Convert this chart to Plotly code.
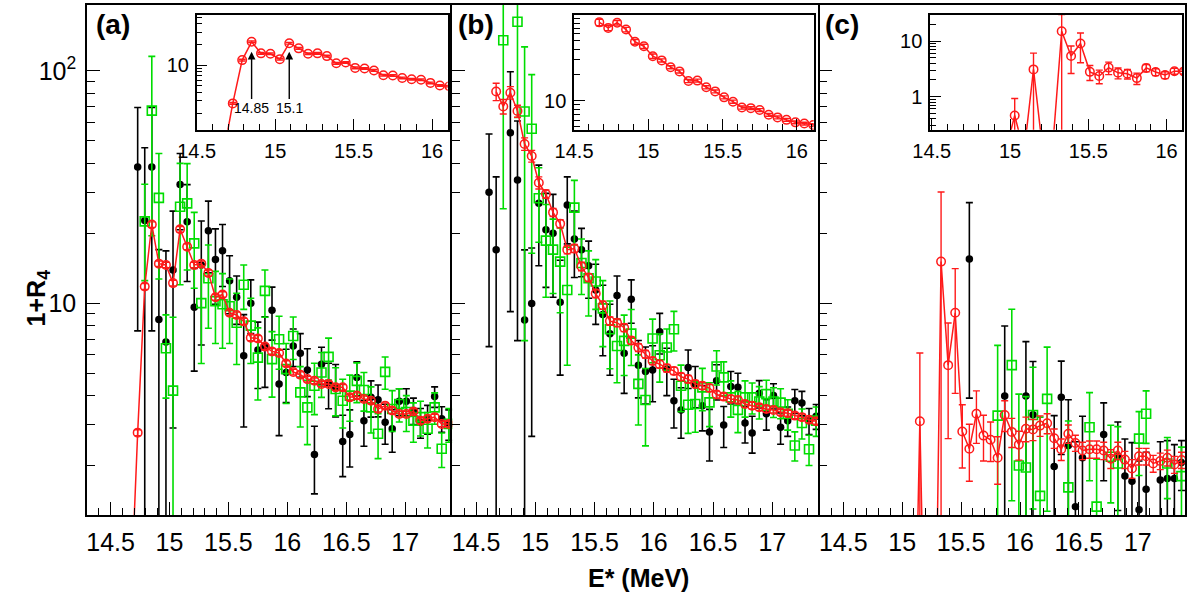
import plotly.graph_objects as go

# ---------------- data ----------------
E_BINS = [14.61, 14.67, 14.73, 14.79, 14.85, 14.91, 14.97, 15.03, 15.09, 15.15,
          15.21, 15.27, 15.33, 15.39, 15.45, 15.51, 15.57, 15.63, 15.69, 15.75,
          15.81, 15.87, 15.93, 15.99, 16.05, 16.11, 16.17, 16.23, 16.29, 16.35,
          16.41, 16.47, 16.53, 16.59, 16.65, 16.71, 16.77, 16.83, 16.89, 16.95,
          17.01, 17.07, 17.13, 17.19, 17.25, 17.31, 17.37]
N = None

# panel (a)
red_a = [N, 0.5, 2.77, 11.8, 21.8, 14.8, 14.6, 12.2, 20.8, 17.5,
         14.6, 14.8, 13.5, 10.6, 10.9, 9.1, 8.9, 8.35, 7.1, 7.05,
         6.5, 6.2, 6.1, 5.5, 5.05, 4.92, 4.71, 4.63, 4.49, 4.49,
         4.34, 4.34, 3.93, 4.0, 3.87, 3.80, 3.50, 3.62, 3.45, 3.33,
         3.33, 3.42, 3.12, 3.18, 3.23, 3.02, 3.02]
red_a_err = [N, 0, 0.08, 0.35, 0.6, 0.4, 0.4, 0.35, 0.6, 0.5,
             0.4, 0.4, 0.4, 0.3, 0.3, 0.25, 0.25, 0.25, 0.2, 0.2,
             0.18, 0.17, 0.17, 0.15, 0.14, 0.14, 0.13, 0.13, 0.12, 0.12,
             0.12, 0.12, 0.11, 0.11, 0.11, 0.1, 0.1, 0.1, 0.1, 0.09,
             0.09, 0.09, 0.09, 0.09, 0.09, 0.08, 0.08]
black_a = [N, N, 38.6, 22.7, 38.6, 8.5, 6.8, 13.9, 32.4, 22.4,
           9.6, 14.6, 20.5, 15.4, 16.8, 12.5, 10.6, 5.93, 10.0, 6.29,
           6.54, 9.33, 4.49, 5.03, 6.54, 6.09, 5.16, 2.23, 5.46, 4.51,
           4.34, 2.54, 2.72, 4.79, 3.12, 3.93, 3.84, 3.07, 2.88, 3.78,
           3.78, 3.45, 3.07, 3.18, 3.96, 3.18, 3.02]
black_a_err = [N, N, 31, 24, 31, 8.5, 10, 11, 11.7, 10,
               4.5, 8, 7, 5.5, 5, 3.5, 2.5, 3, 2.6, 2,
               2.2, 2.4, 1.8, 1.3, 1.2, 1.3, 1.2, 0.72, 1.0, 1.0,
               1.1, 0.75, 0.75, 0.8, 0.7, 0.7, 0.6, 0.6, 0.6, 0.5,
               0.5, 0.45, 0.45, 0.45, 0.4, 0.4, 0.45]
green_a = [N, N, N, 22.5, 67.5, 28.4, 6.4, 4.2, 26.0, 26.9,
           18.1, 10.0, 12.8, 10.2, 9.9, 9.7, 8.24, 12.0, 8.0, 5.83,
           11.3, 5.74, 6.99, 5.2, 7.22, 4.13, 3.56, 4.41, 5.03, 5.87,
           4.27, 3.80, 4.0, 4.63, 4.23, 3.56, 2.74, 5.06, 3.50, 3.68,
           3.4, 3.12, 3.23, 2.88, 3.56, 2.36, 3.02]
green_a_err = [N, N, N, 10, 48, 15.7, 2.5, 4.5, 14, 13,
               6.5, 4.5, 5, 3.5, 3.5, 3, 2.8, 2.6, 2.5, 2,
               2.6, 1.8, 1.8, 1.5, 1.5, 1.2, 1.1, 1.1, 1.1, 1.2,
               1.0, 0.9, 0.9, 0.9, 0.8, 0.8, 0.6, 0.8, 0.7, 0.6,
               0.6, 0.6, 0.55, 0.5, 0.55, 0.4, 0.5]

# panel (b)
red_b = [N, 81.5, 70.3, 80.6, 67.2, 48.5, 43.0, 33.0, 29.5, 24.6,
         22.0, 17.0, 17.2, 14.4, 12.9, 11.0, 9.8, 8.37, 8.24, 7.84,
         6.9, 6.44, 6.03, 5.64, 5.46, 5.25, 5.11, 4.82, 4.71, 4.49,
         4.41, 4.31, 4.04, 3.96, 3.87, 3.83, 3.68, 3.62, 3.56, 3.50,
         3.47, 3.39, 3.36, 3.28, 3.23, 3.15, 3.10]
red_b_err = [N, 7, 5, 5, 4, 3, 2.5, 2, 1.2, 1.0,
             0.9, 0.7, 0.7, 0.6, 0.5, 0.45, 0.4, 0.35, 0.3, 0.3,
             0.25, 0.25, 0.22, 0.2, 0.2, 0.2, 0.18, 0.17, 0.17, 0.16,
             0.15, 0.15, 0.14, 0.13, 0.13, 0.12, 0.12, 0.12, 0.11, 0.11,
             0.1, 0.1, 0.1, 0.1, 0.1, 0.09, 0.09]
black_b = [30.0, 17.0, N, 54.2, 33.9, 8.46, 9.97, 26.9, 20.7, 20.0,
           10.1, 26.5, 18.9, 17.0, 14.5, 11.4, 8.94, 7.39, 10.8, 6.09,
           10.4, 5.41, 5.08, 5.16, 7.54, 5.2, 3.80, 3.47, 5.29, 4.44,
           3.62, 2.79, 4.63, 2.99, 4.38, 4.34, 3.05, 2.76, 4.09, 3.34,
           4.0, 2.92, 3.12, 3.80, 3.72, 3.12, 3.26]
black_b_err = [23.5, 18, N, 45, 27, 8.5, 7.3, 12.4, 9, 9.4,
               5.2, 8.5, 6, 4, 4, 3.3, 3, 2.5, 2.3, 2,
               2.2, 1.5, 1.4, 1.4, 1.5, 1.2, 0.9, 0.85, 1.0, 0.9,
               0.8, 0.7, 0.8, 0.6, 0.7, 0.65, 0.55, 0.5, 0.55, 0.5,
               0.5, 0.45, 0.45, 0.45, 0.45, 0.4, 0.4]
green_b = [N, N, 135.5, N, 163, 66.9, 56.4, 28.3, 18.6, 17.0,
           15.1, 11.4, 25.8, 14.9, 12.8, 12.4, 9.5, 7.72, 6.54, 6.88,
           7.39, 4.49, 3.83, 7.04, 5.97, 6.44, 7.72, 4.41, 3.65, 3.68,
           4.34, 3.74, 5.34, 4.79, 3.93, 3.47, 3.93, 3.93, 3.77, 4.06,
           3.77, 3.73, 3.34, 2.44, 3.05, 2.35, 3.12]
green_b_err = [N, N, 110, N, 100, 60, 40, 10, 8, 6,
               6, 6, 8, 4, 4, 3, 3, 2.5, 2, 2,
               2, 1.5, 1.4, 1.5, 1.4, 1.3, 1.5, 1.0, 0.9, 0.9,
               0.9, 0.8, 0.9, 0.8, 0.7, 0.7, 0.7, 0.6, 0.6, 0.6,
               0.55, 0.55, 0.5, 0.35, 0.45, 0.35, 0.45]

# panel (c)
red_c = [N, N, N, N, N, N, 0.1, 0.456, 0.1, 3.10,
         0.1, 0.1, 15.1, 5.41, 9.09, 2.80, 2.36, 3.34, 2.69, 2.58,
         2.16, 3.30, 2.79, 2.46, 2.88, 2.86, 2.97, 3.04, 2.62, 2.35,
         2.74, 2.50, 2.32, 2.35, 2.35, 2.32, 2.14, 2.32, 2.12, 1.94,
         2.19, 2.19, 2.04, 2.09, 2.16, 2.02, 2.11]
red_c_err = [N, N, N, N, N, N, 0, 0.47, 0, 3.0,
             0, 0, 15, 2.8, 5.0, 0.85, 0.65, 0.85, 0.6, 0.5,
             0.5, 0.5, 0.4, 0.35, 0.35, 0.3, 0.3, 0.3, 0.25, 0.25,
             0.25, 0.2, 0.2, 0.2, 0.2, 0.2, 0.2, 0.2, 0.18, 0.18,
             0.18, 0.18, 0.17, 0.17, 0.17, 0.17, 0.17]
black_c = [N, N, N, N, N, N, N, N, N, N,
           N, N, N, N, N, N, 15.5, N, N, N,
           N, 3.98, N, N, 3.98, 3.31, N, N, 1.98, 3.93,
           2.44, 1.33, 2.16, N, N, 2.72, N, 2.18, 1.80, 1.71,
           1.29, 1.58, N, 1.73, 1.76, 1.76, 2.06]
black_c_err = [N, N, N, N, N, N, N, N, N, N,
               N, N, N, N, N, N, 11.6, N, N, N,
               N, 4.0, N, N, 2.85, 2.3, N, N, 1.3, 1.7,
               1.4, 1.2, 1.1, N, N, 1.0, N, 0.9, 0.8, 0.8,
               0.8, 0.7, N, 0.8, 0.8, 0.7, 0.5]
green_c = [N, N, N, N, N, N, N, N, N, N,
           N, N, N, N, N, N, N, N, N, N,
           3.28, N, 5.41, 2.0, 1.96, 3.3, 1.48, 3.87, N, N,
           1.61, N, N, 2.92, 1.33, N, 2.18, 2.04, N, N,
           2.61, 3.34, N, N, 2.04, N, 1.80]
green_c_err = [N, N, N, N, N, N, N, N, N, N,
               N, N, N, N, N, N, N, N, N, N,
               3.3, N, 4.0, 2.06, 2.0, 2.0, 1.75, 2.6, N, N,
               1.5, N, N, 1.2, 0.8, N, 0.8, 0.9, N, N,
               0.8, 0.85, N, N, 0.6, N, 0.6]

MAIN_TICKS = [14.5, 15, 15.5, 16, 16.5, 17]
MAIN_TICKTEXT = ["14.5", "15", "15.5", "16", "16.5", "17"]
INSET_TICKS = [14.5, 15, 15.5, 16]
INSET_TICKTEXT = ["14.5", "15", "15.5", "16"]
ARROW_E = [14.85, 15.09]
ARROW_TEXT = ["14.85", "15.1"]

# ---------------- styling ----------------
BLACK = "#000000"
GREEN = "#00dd00"
RED = "#ff1a1a"
FONT = "Liberation Sans, Arial, sans-serif"

fig = go.Figure()

def add_panel(xa, ya, black, black_err, green, green_err, red, red_err):
    if black is not None:
        fig.add_trace(go.Scatter(
            x=E_BINS, y=black, mode="markers", xaxis=xa, yaxis=ya,
            marker=dict(symbol="circle", size=7.5, color=BLACK),
            error_y=dict(type="data", array=black_err, color=BLACK, thickness=1.6, width=3.5),
            showlegend=False))
    if green is not None:
        fig.add_trace(go.Scatter(
            x=E_BINS, y=green, mode="markers", xaxis=xa, yaxis=ya,
            marker=dict(symbol="square-open", size=9, color=GREEN, line=dict(width=1.6, color=GREEN)),
            error_y=dict(type="data", array=green_err, color=GREEN, thickness=1.6, width=3.5),
            showlegend=False))
    fig.add_trace(go.Scatter(
        x=E_BINS, y=red, mode="lines+markers", xaxis=xa, yaxis=ya,
        line=dict(color=RED, width=1.5),
        marker=dict(symbol="circle-open", size=8.5, color=RED, line=dict(width=1.5, color=RED)),
        error_y=dict(type="data", array=red_err, color=RED, thickness=1.4, width=3.5),
        showlegend=False))

add_panel("x", "y", black_a, black_a_err, green_a, green_a_err, red_a, red_a_err)
add_panel("x2", "y2", black_b, black_b_err, green_b, green_b_err, red_b, red_b_err)
add_panel("x3", "y3", black_c, black_c_err, green_c, green_c_err, red_c, red_c_err)
# insets (red curve only)
add_panel("x4", "y4", None, None, None, None, red_a, red_a_err)
add_panel("x5", "y5", None, None, None, None, red_b, red_b_err)
add_panel("x6", "y6", None, None, None, None, red_c, red_c_err)

# ---------------- axes ----------------
main_minor_x = [round(14.3 + 0.1 * k, 1) for k in range(32)]
main_minor_x = [v for v in main_minor_x if v not in MAIN_TICKS]
inset_minor_x = [round(14.5 + 0.1 * k, 1) for k in range(17)]
inset_minor_x = [v for v in inset_minor_x if v not in INSET_TICKS]

def line_common(mirror):
    return dict(showline=True, mirror=mirror, linecolor=BLACK, linewidth=1.6,
                showgrid=False, zeroline=False)

def main_x(domain, anchor):
    return dict(domain=domain, anchor=anchor, range=[14.3, 17.4],
                tickmode="array", tickvals=MAIN_TICKS, ticktext=MAIN_TICKTEXT,
                ticks="inside", ticklen=13, tickwidth=1.3, tickcolor=BLACK,
                tickfont=dict(family=FONT, size=25, color=BLACK), ticklabelstandoff=4,
                minor=dict(ticks="inside", ticklen=7, tickwidth=1.2, tickcolor=BLACK,
                           tickmode="array", tickvals=main_minor_x),
                **line_common(True))

def main_y(anchor, labels, mirror):
    d = dict(domain=[0, 1], anchor=anchor, type="log", range=[0.0878, 2.284],
             tickmode="array", tickvals=[10, 100],
             showticklabels=labels,
             ticks="inside", ticklen=13, tickwidth=1.3, tickcolor=BLACK,
             tickfont=dict(family=FONT, size=25, color=BLACK), ticklabelstandoff=4,
             minor=dict(ticks="inside", ticklen=8, tickwidth=1.2, tickcolor=BLACK,
                        tickmode="array", tickvals=[2, 3, 4, 5, 6, 7, 8, 9, 20, 30, 40, 50, 60, 70, 80, 90]),
             **line_common(mirror))
    if labels:
        d["ticktext"] = ["10", "10<sup>2</sup>"]
    return d

def inset_x(domain, anchor, rng):
    return dict(domain=domain, anchor=anchor, range=rng,
                tickmode="array", tickvals=INSET_TICKS, ticktext=INSET_TICKTEXT,
                ticks="inside", ticklen=11, tickwidth=1.3, tickcolor=BLACK,
                tickfont=dict(family=FONT, size=20, color=BLACK), ticklabelstandoff=2,
                minor=dict(ticks="inside", ticklen=6, tickwidth=1.2, tickcolor=BLACK,
                           tickmode="array", tickvals=inset_minor_x),
                **line_common(True))

def inset_y(domain, anchor, rng, tv, tt, minor):
    return dict(domain=domain, anchor=anchor, type="log", range=rng,
                tickmode="array", tickvals=tv, ticktext=tt,
                ticks="inside", ticklen=11, tickwidth=1.3, tickcolor=BLACK,
                tickfont=dict(family=FONT, size=20, color=BLACK), ticklabelstandoff=2,
                minor=dict(ticks="inside", ticklen=6, tickwidth=1.2, tickcolor=BLACK,
                           tickmode="array", tickvals=minor),
                **line_common(True))

DA = [0.0, 0.3327]
DB = [0.3327, 0.6673]
DC = [0.6673, 1.0]
INSET_Y = [0.7553, 0.981]

fig.update_layout(
    width=1190, height=602, autosize=False,
    margin=dict(l=87, r=3, t=3, b=87),
    paper_bgcolor="white", plot_bgcolor="white",
    xaxis=main_x(DA, "y"), yaxis=main_y("x", True, False),
    xaxis2=main_x(DB, "y2"), yaxis2=main_y("x2", False, False),
    xaxis3=main_x(DC, "y3"), yaxis3=main_y("x3", False, True),
    xaxis4=inset_x([0.0999, 0.3285], "y4", [14.5, 16.1]),
    yaxis4=inset_y(INSET_Y, "x4", [0.058, 1.733], [10], ["10"],
                   [2, 3, 4, 5, 6, 7, 8, 9, 20, 30, 40, 50]),
    xaxis5=inset_x([0.4436, 0.6618], "y5", [14.5, 16.113]),
    yaxis5=inset_y(INSET_Y, "x5", [0.665, 2.0], [10], ["10"],
                   [5, 6, 7, 8, 9, 20, 30, 40, 50, 60, 70, 80, 90]),
    xaxis6=inset_x([0.7679, 0.9975], "y6", [14.49, 16.1]),
    yaxis6=inset_y(INSET_Y, "x6", [-0.598, 1.478], [1, 10], ["1", "10"],
                   [0.3, 0.4, 0.5, 0.6, 0.7, 0.8, 0.9, 2, 3, 4, 5, 6, 7, 8, 9, 20, 30]),
)

annotations = []
# panel labels
for lbl, xp in [("(a)", 0.0236), ("(b)", 0.3545), ("(c)", 0.688)]:
    annotations.append(dict(text=f"<b>{lbl}</b>", x=xp, y=0.962, xref="paper", yref="paper",
                            showarrow=False, xanchor="center", yanchor="middle",
                            font=dict(family=FONT, size=28, color=BLACK)))
# axis titles
annotations.append(dict(text="<b>E* (MeV)</b>", x=0.5027, y=-0.123, xref="paper", yref="paper",
                        showarrow=False, xanchor="center", yanchor="middle",
                        font=dict(family=FONT, size=25, color=BLACK)))
annotations.append(dict(text="<b>1+R<sub>4</sub></b>", x=-0.0445, y=0.425, xref="paper", yref="paper",
                        showarrow=False, xanchor="center", yanchor="middle", textangle=-90,
                        font=dict(family=FONT, size=25, color=BLACK)))
# arrows with labels in inset (a): text sits at the arrow tail
for e, txt in zip(ARROW_E, ARROW_TEXT):
    annotations.append(dict(text=txt, x=e, y=1.194, xref="x4", yref="y4",
                            ax=e, ay=0.368, axref="x4", ayref="y4",
                            showarrow=True, arrowhead=2, arrowsize=1.1, arrowwidth=1.4,
                            arrowcolor=BLACK,
                            font=dict(family=FONT, size=14, color=BLACK)))
fig.update_layout(annotations=annotations)

fig.write_html("out.html", config={"displayModeBar": False},
               post_script="document.body.style.margin='0px';document.body.style.overflow='hidden';")
